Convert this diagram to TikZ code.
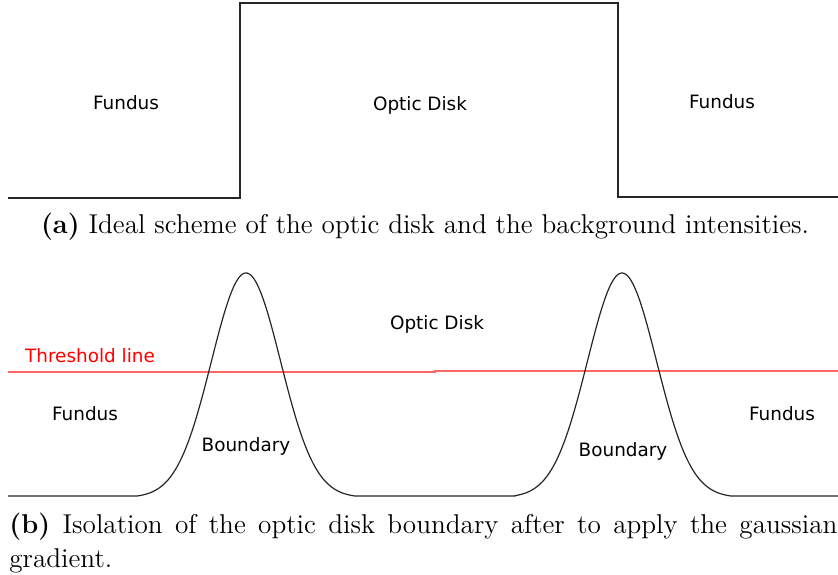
\documentclass[tikz,border=0pt]{standalone}
\usepackage{fontspec}
\newfontfamily\labfont{DejaVu Sans}
\begin{document}
\begin{tikzpicture}[x=0.5pt,y=-0.5pt,
  lab/.style={font=\labfont\fontsize{9.2}{11}\selectfont, inner sep=0pt},
  curve/.style={line width=0.6pt, black!85},
  thr/.style={line width=0.6pt, red!60},
  captext/.style={font=\fontsize{13.6}{16.6}\selectfont, inner sep=0pt}]
\useasboundingbox (0,0) rectangle (838,574);
% (a) ideal scheme
\draw[curve] (8,198) -- (240,198) -- (240,3) -- (618,3) -- (618,197) -- (838,197);
\node[lab] (fa1) at (126,103) {Fundus};
\node[lab] (oda) at (420,105) {Optic Disk};
\node[lab] (fa2) at (722,102) {Fundus};
\node[captext] (capa) at (425,227) {\textbf{(a)} Ideal scheme of the optic disk and the background intensities.};
% (b) gaussian gradient
\draw[thr] (8,372) -- (435,372) -- (435,371) -- (838,371);
\draw[curve] (8,496) -- (137,496)
  -- plot[domain=137:355,samples=120] (\x,{496-224.6*(exp(-((\x-246)*(\x-246))/2394)-0.007)})
  -- (515,496)
  -- plot[domain=515:731,samples=120] (\x,{496-224.6*(exp(-((\x-622)*(\x-622))/2394)-0.007)})
  -- (838,496);
\node[lab,red] (thl) at (90,356) {Threshold line};
\node[lab] (odb) at (437,324) {Optic Disk};
\node[lab] (fb1) at (85,414) {Fundus};
\node[lab] (bd1) at (246,446) {Boundary};
\node[lab] (bd2) at (623,451) {Boundary};
\node[lab] (fb2) at (782,414) {Fundus};
\node[captext, anchor=north west, text width=414pt, align=justify] (capb) at (9,513)
  {\textbf{(b)} Isolation of the optic disk boundary after to apply the gaussian gradient.};
\end{tikzpicture}
\end{document}
